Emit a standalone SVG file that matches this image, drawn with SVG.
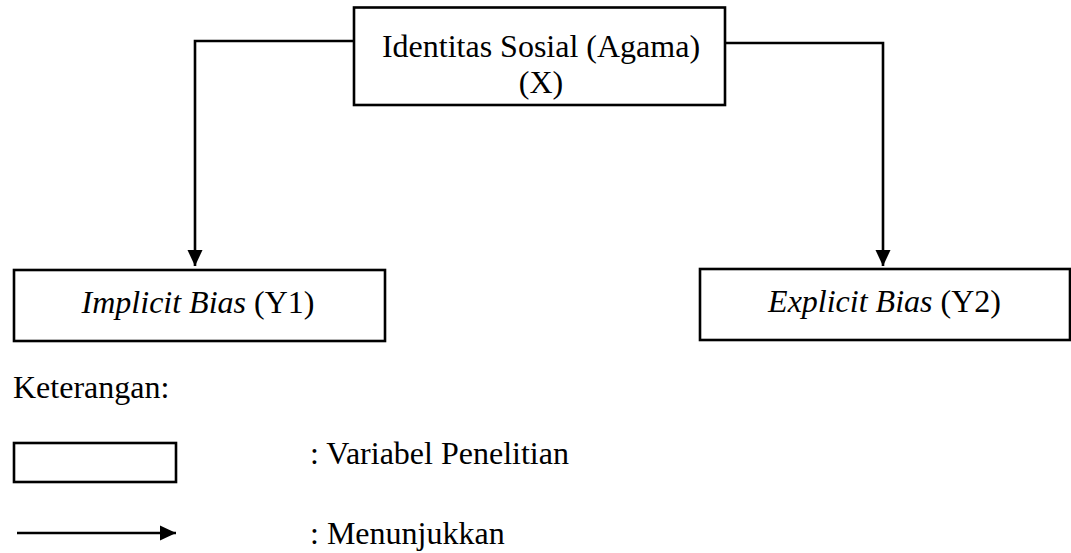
<svg xmlns="http://www.w3.org/2000/svg" width="1071" height="553" viewBox="0 0 1071 553">
<style>
.box{fill:#fff;stroke:#000;stroke-width:2.6}
.conn{fill:none;stroke:#000;stroke-width:2.6}
.t{font-family:'Liberation Serif','Times New Roman',Times,serif;font-size:32px;fill:#000}
.i{font-style:italic}
</style>
<defs>
<marker id="arr" markerUnits="userSpaceOnUse" markerWidth="16" markerHeight="16" viewBox="0 0 16 16" refX="16" refY="8" orient="auto">
<path d="M0,0.5 L16,8 L0,15.5 Z" fill="#000"/>
</marker>
</defs>
<rect width="1071" height="553" fill="#fff"/>
<g id="connectors">
<polyline class="conn" points="354,41 195,41 195,266" marker-end="url(#arr)"/>
<polyline class="conn" points="725,43 883,43 883,266" marker-end="url(#arr)"/>
</g>
<g id="node-x">
<rect class="box" x="354" y="7.5" width="371" height="97.5"/>
<text class="t" x="541" y="57" text-anchor="middle">Identitas Sosial (Agama)</text>
<text class="t" x="541" y="93" text-anchor="middle">(X)</text>
</g>
<g id="node-y1">
<rect class="box" x="14" y="270" width="371" height="71"/>
<text class="t" x="198" y="313" text-anchor="middle"><tspan class="i">Implicit Bias</tspan> (Y1)</text>
</g>
<g id="node-y2">
<rect class="box" x="700" y="269" width="370" height="71"/>
<text class="t" x="884.5" y="312" text-anchor="middle"><tspan class="i">Explicit Bias</tspan> (Y2)</text>
</g>
<g id="legend">
<text class="t" x="13" y="398">Keterangan:</text>
<rect class="box" x="14" y="443" width="162" height="39"/>
<text class="t" x="310" y="464">: Variabel Penelitian</text>
<line class="conn" x1="17" y1="533" x2="176" y2="533" marker-end="url(#arr)"/>
<text class="t" x="310" y="544">: Menunjukkan</text>
</g>
</svg>
